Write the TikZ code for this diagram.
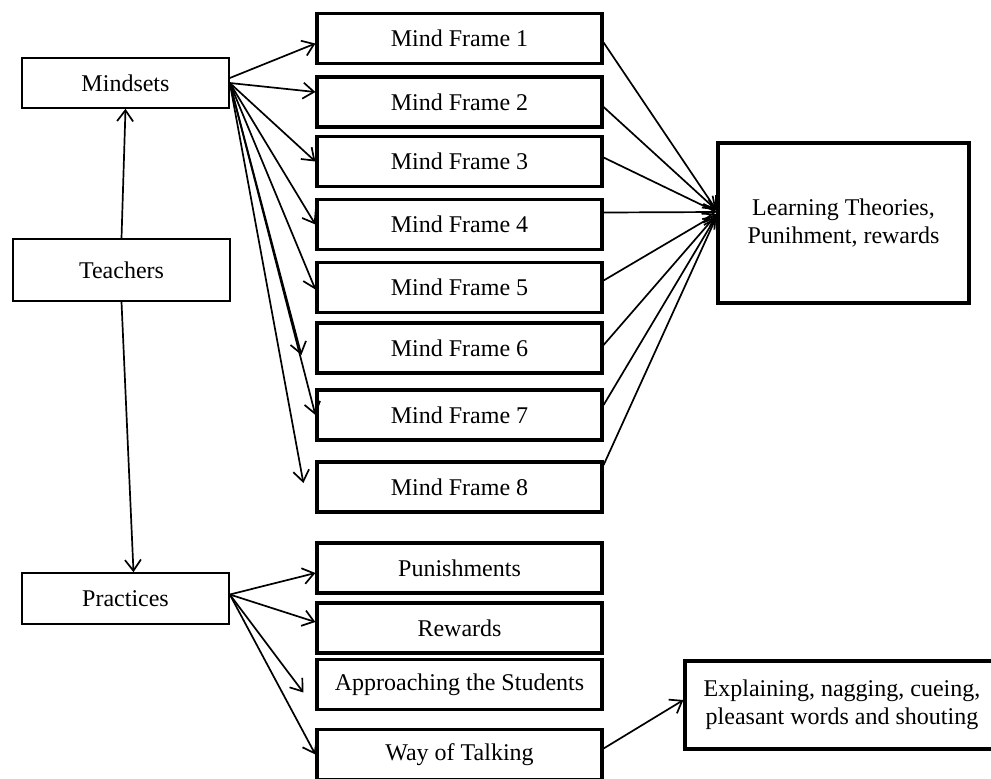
\documentclass[tikz,border=0pt]{standalone}
\usepackage{fontspec}
\setmainfont{Liberation Serif}
\usetikzlibrary{arrows.meta}

\tikzstyle{nT}=[rectangle,draw,line width=0.8pt,minimum width=103.5pt,minimum height=25pt,inner sep=0pt,font=\fontsize{12}{14}\selectfont,align=center]
\tikzstyle{nB}=[rectangle,draw,line width=1.6pt,minimum width=142.5pt,minimum height=25pt,inner sep=0pt,font=\fontsize{12}{14}\selectfont,align=center]
\tikzstyle{eA}=[line width=0.85pt,-{Straight Barb[length=5.5pt,width=8pt]}]

\begin{document}
\begin{tikzpicture}[x=0.5pt,y=-0.5pt]
    \useasboundingbox (0,0) rectangle (991,778);
    \draw (125.5,83) node[nT] (mindsets) {Mindsets};
    \draw (121.5,270) node[nT,minimum width=108.5pt,minimum height=31pt] (teachers) {Teachers};
    \draw (125.5,598.5) node[nT,minimum height=25.5pt] (practices) {Practices};

    \draw (459.5,38.5) node[nB] (mf1) {Mind Frame 1};
    \draw (459.5,102) node[nB] (mf2) {Mind Frame 2};
    \draw (459.5,161.5) node[nB] (mf3) {Mind Frame 3};
    \draw (459.5,224.5) node[nB] (mf4) {Mind Frame 4};
    \draw (459.5,287.5) node[nB] (mf5) {Mind Frame 5};
    \draw (459.5,348) node[nB] (mf6) {Mind Frame 6};
    \draw (459.5,415) node[nB] (mf7) {Mind Frame 7};
    \draw (459.5,487) node[nB] (mf8) {Mind Frame 8};

    \draw (459.5,568) node[nB] (pun) {Punishments};
    \draw (459.5,628) node[nB] (rew) {Rewards};
    \draw (459.5,684.5) node[nB] (app) {Approaching the Students};
    \draw (459.5,754.5) node[nB] (wot) {Way of Talking};

    \draw (843.5,223) node[nB,minimum width=125.5pt,minimum height=80pt] (learn) {Learning Theories,\\Punihment, rewards};
    \draw (842,705) node[nB,minimum width=157pt,minimum height=44pt] (expl) {Explaining, nagging, cueing,\\pleasant words and shouting};

    \path
        (teachers.north) edge[eA] (mindsets.south)
        (teachers.south) edge[eA] ([xshift=4pt]practices.north)
        ([yshift=2.5pt]mindsets.east) edge[eA] ([yshift=-2.5pt]mf1.west)
        (mindsets.east) edge[eA] ([yshift=5pt]mf2.west)
        (mindsets.east) edge[eA] (mf3.west)
        (mindsets.east) edge[eA] (mf4.west)
        (mindsets.east) edge[eA] ([yshift=-1pt]mf5.west)
        (mindsets.east) edge[eA] ([xshift=-7pt,yshift=-3.5pt]mf6.west)
        (mindsets.east) edge[eA] (mf7.west)
        (mindsets.east) edge[eA] ([xshift=-6pt,yshift=2pt]mf8.west)
        ([yshift=-2pt]mf1.east) edge[eA] ([yshift=6.5pt]learn.west)
        ([yshift=-2.5pt]mf2.east) edge[eA] ([yshift=6.5pt]learn.west)
        ([yshift=2pt]mf3.east) edge[eA] ([yshift=5.5pt]learn.west)
        ([yshift=6pt]mf4.east) edge[eA] ([yshift=5.5pt]learn.west)
        ([yshift=3.5pt]mf5.east) edge[eA] ([yshift=4.5pt]learn.west)
        ([yshift=1.5pt]mf6.east) edge[eA] ([yshift=4pt]learn.west)
        ([yshift=5pt]mf7.east) edge[eA] ([yshift=3.5pt]learn.west)
        ([yshift=11pt]mf8.east) edge[eA] ([yshift=3pt]learn.west)
        ([yshift=2pt]practices.east) edge[eA] ([yshift=-2.5pt]pun.west)
        ([yshift=2pt]practices.east) edge[eA] ([yshift=3pt]rew.west)
        ([yshift=2pt]practices.east) edge[eA] ([xshift=-6pt,yshift=-4pt]app.west)
        ([yshift=2pt]practices.east) edge[eA] (wot.west)
        ([yshift=3pt]wot.east) edge[eA] ([yshift=2.5pt]expl.west)
    ;
\end{tikzpicture}
\end{document}
